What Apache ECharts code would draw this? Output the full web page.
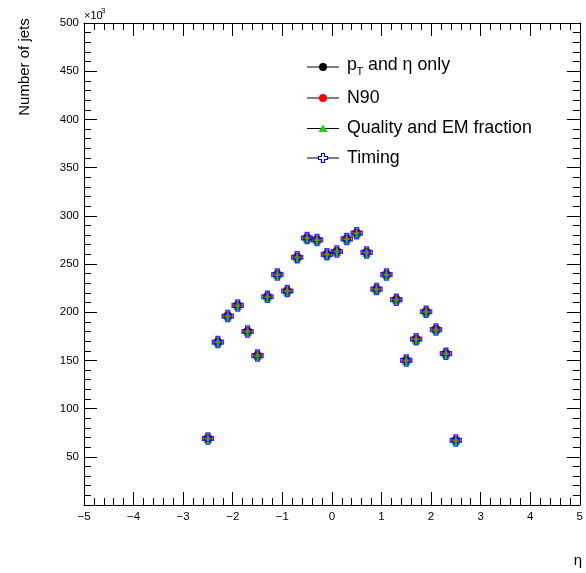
<!DOCTYPE html>
<html>
<head>
<meta charset="utf-8">
<script src="https://cdn.jsdelivr.net/npm/echarts@6/dist/echarts.min.js"></script>
<style>
  html, body { margin: 0; padding: 0; background: #fff; }
  #chart { width: 586px; height: 573px; }
</style>
</head>
<body>
<div id="chart"></div>
<script>
// Jet pseudorapidity distribution after successive selection cuts (counts in units of 10^3)
const etaBins = [-2.5, -2.3, -2.1, -1.9, -1.7, -1.5, -1.3, -1.1, -0.9, -0.7, -0.5, -0.3, -0.1,
                 0.1, 0.3, 0.5, 0.7, 0.9, 1.1, 1.3, 1.5, 1.7, 1.9, 2.1, 2.3, 2.5];

const ptEtaOnly = [69, 169, 196, 207, 180, 155, 216, 239, 222, 257, 277, 275, 260,
                   263, 276, 282, 262, 224, 239, 213, 150, 172, 200.5, 182, 157, 67];
const n90 =       [69, 169, 196, 207, 180, 155, 216, 239, 222, 257, 277, 275, 260,
                   263, 276, 282, 262, 224, 239, 213, 150, 172, 200.5, 182, 157, 67];
const qualityEM = [69, 169, 196, 207, 180, 155, 216, 239, 222, 257, 277, 275, 260,
                   263, 276, 282, 262, 224, 239, 213, 150, 172, 200.5, 182, 157, 67];
const timing =    [69, 169, 196, 207, 180, 155, 216, 239, 222, 257, 277, 275, 260,
                   263, 276, 282, 262, 224, 239, 213, 150, 172, 200.5, 182, 157, 67];

const xTicks = [-5, -4, -3, -2, -1, 0, 1, 2, 3, 4, 5];
const yTicks = [50, 100, 150, 200, 250, 300, 350, 400, 450, 500];

const FONT = '"Liberation Sans", Arial, Helvetica, sans-serif';
const crossPath = 'path://M-1,-3L1,-3L1,-1L3,-1L3,1L1,1L1,3L-1,3L-1,1L-3,1L-3,-1L-1,-1Z';

function toPoints(vals) {
  return etaBins.map((e, i) => [e, vals[i]]);
}

function fmtX(v) {
  if (!xTicks.includes(v)) return '';
  return v < 0 ? '\u2212' + (-v) : String(v);
}
function fmtY(v) {
  return yTicks.includes(v) ? String(v) : '';
}

function tickCommon() {
  return {
    axisLine: { show: true, onZero: false, lineStyle: { color: '#000', width: 1 } },
    axisTick: { show: true, inside: true, length: 13, lineStyle: { color: '#000', width: 1 } },
    minorTick: { show: true, splitNumber: 5, length: 7, lineStyle: { color: '#000', width: 1 } },
    splitLine: { show: false },
    minorSplitLine: { show: false }
  };
}

const chart = echarts.init(document.getElementById('chart'), null, { renderer: 'canvas' });

// legend rows: marker drawn over a short black line
const legendRows = [
  { y: 67, kind: 'circle', color: '#000000' },
  { y: 98, kind: 'circle', color: '#ff0000' },
  { y: 128.5, kind: 'triangle', color: '#00dd00' },
  { y: 158, kind: 'cross', color: '#0000ff' }
];
const legendGraphics = [];
legendRows.forEach(r => {
  legendGraphics.push({
    type: 'line', shape: { x1: 307, y1: r.y, x2: 339, y2: r.y },
    style: { stroke: '#000', lineWidth: 1 }, z: 10
  });
  if (r.kind === 'circle') {
    legendGraphics.push({ type: 'circle', shape: { cx: 323, cy: r.y, r: 4 }, style: { fill: r.color }, z: 11 });
  } else if (r.kind === 'triangle') {
    legendGraphics.push({ type: 'polygon', shape: { points: [[323, r.y - 4], [327.5, r.y + 3.5], [318.5, r.y + 3.5]] },
      style: { fill: r.color }, z: 11 });
  } else {
    const c = 323, s = 1.5;
    const pts = [[-1,-3],[1,-3],[1,-1],[3,-1],[3,1],[1,1],[1,3],[-1,3],[-1,1],[-3,1],[-3,-1],[-1,-1]]
      .map(p => [c + p[0] * s, r.y + p[1] * s]);
    legendGraphics.push({ type: 'polygon', shape: { points: pts },
      style: { fill: '#fff', stroke: r.color, lineWidth: 1.2 }, z: 11 });
  }
});

const LEG_FONT = '17.8px ' + FONT;
const textStyle = (extra) => Object.assign({ fill: '#000', font: LEG_FONT, textVerticalAlign: 'middle' }, extra);

legendGraphics.push(
  { type: 'text', x: 347, y: 65, style: textStyle({ text: 'p' }), z: 12 },
  { type: 'text', x: 356.5, y: 72, style: textStyle({ text: 'T', font: '11px ' + FONT }), z: 12 },
  { type: 'text', x: 368, y: 65, style: textStyle({ text: 'and \u03b7 only' }), z: 12 },
  { type: 'text', x: 347, y: 98, style: textStyle({ text: 'N90' }), z: 12 },
  { type: 'text', x: 347, y: 128.5, style: textStyle({ text: 'Quality and EM fraction' }), z: 12 },
  { type: 'text', x: 347, y: 158, style: textStyle({ text: 'Timing' }), z: 12 }
);

const option = {
  animation: false,
  backgroundColor: '#ffffff',
  textStyle: { fontFamily: FONT },
  grid: { left: 84, right: 4, top: 23, bottom: 68, containLabel: false },
  xAxis: [
    Object.assign({
      type: 'value', position: 'bottom', min: -5, max: 5, interval: 1,
      axisLabel: { show: true, color: '#000', fontSize: 11.5, fontFamily: FONT, margin: 6, formatter: fmtX }
    }, tickCommon()),
    Object.assign({
      type: 'value', position: 'top', min: -5, max: 5, interval: 1,
      axisLabel: { show: false }
    }, tickCommon())
  ],
  yAxis: [
    Object.assign({
      type: 'value', position: 'left', min: 0, max: 500, interval: 50,
      axisLabel: { show: true, color: '#000', fontSize: 11.5, fontFamily: FONT, margin: 5, formatter: fmtY }
    }, tickCommon()),
    Object.assign({
      type: 'value', position: 'right', min: 0, max: 500, interval: 50,
      axisLabel: { show: false }
    }, tickCommon())
  ],
  series: [
    { name: 'p_T and eta only', type: 'scatter', data: toPoints(ptEtaOnly), symbol: 'circle', symbolSize: 9,
      itemStyle: { color: '#000000' }, z: 2 },
    { name: 'N90', type: 'scatter', data: toPoints(n90), symbol: 'circle', symbolSize: 9,
      itemStyle: { color: '#ff0000' }, z: 3 },
    { name: 'Quality and EM fraction', type: 'scatter', data: toPoints(qualityEM), symbol: 'triangle', symbolSize: 9,
      itemStyle: { color: '#00dd00' }, z: 4 },
    { name: 'Timing', type: 'scatter', data: toPoints(timing), symbol: crossPath, symbolSize: 11,
      itemStyle: { color: 'rgba(0,0,0,0)', borderColor: '#0000ff', borderWidth: 1.5 }, z: 5 }
  ],
  graphic: legendGraphics.concat([
    // y-axis title
    { type: 'text', x: 25, y: 67, rotation: Math.PI / 2,
      style: { text: 'Number of jets', fill: '#000', font: '15px ' + FONT, textAlign: 'center', textVerticalAlign: 'middle' } },
    // axis multiplier
    { type: 'text', x: 84, y: 16, style: { text: '\u00d710', fill: '#000', font: '11px ' + FONT, textVerticalAlign: 'middle' } },
    { type: 'text', x: 101, y: 11, style: { text: '3', fill: '#000', font: '8px ' + FONT, textVerticalAlign: 'middle' } },
    // x-axis title
    { type: 'text', x: 582, y: 561, style: { text: '\u03b7', fill: '#000', font: '15px ' + FONT, textAlign: 'right', textVerticalAlign: 'middle' } }
  ])
};

chart.setOption(option);
</script>
</body>
</html>
